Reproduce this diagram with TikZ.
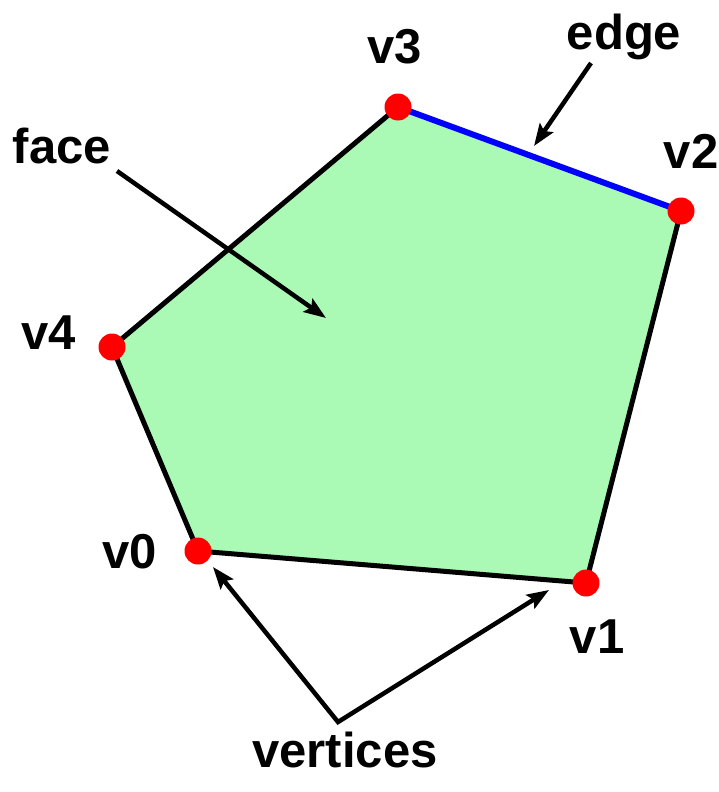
\documentclass[tikz,border=0pt]{standalone}
\usepackage{fontspec}
\setmainfont{Liberation Sans}
\usetikzlibrary{arrows.meta}
\definecolor{facegreen}{RGB}{170,250,182}

\begin{document}
\begin{tikzpicture}[x=1pt,y=-1pt,
  dot/.style={circle,fill=red,inner sep=0pt,minimum size=27pt},
  lbl/.style={font=\fontsize{49}{52}\selectfont\bfseries,inner sep=0pt},
  tip/.tip={Stealth[length=22pt,width=16pt,inset=4pt]},
  pointer/.style={line width=4.5pt,-tip}]
\useasboundingbox (0,0) rectangle (718,792);
\coordinate (V0) at (198,551); \coordinate (V1) at (586,583); \coordinate (V2) at (681,211);
\coordinate (V3) at (398,107); \coordinate (V4) at (112,347);
\fill[facegreen] (V0)--(V1)--(V2)--(V3)--(V4)--cycle;
\draw[line width=5pt,line join=round] (V3)--(V4)--(V0)--(V1)--(V2);
\draw[blue,line width=6pt] (V2)--(V3);
\foreach \p in {V0,V1,V2,V3,V4}{\node[dot] (d\p) at (\p) {};}
% labels
\foreach \p/\x/\y/\t in {V0/130/552/v0,V1/597/637/v1,V2/691/151/v2,V3/395/47/v3,V4/49/333/v4}{\node[lbl] (l\p) at (\x,\y) {\t};}
\node[lbl] (edge) at (624,37) {edge};
\node[lbl] (face) at (62,146) {face};
\node[lbl] (vertices) at (345,750) {vertices};
% pointers
\coordinate (edgetip) at (534,146); \coordinate (facetip) at (326,318);
\coordinate (join) at (338,722);
\coordinate (tip0) at (213,567); \coordinate (tip1) at (549,590);
\draw[pointer] (591,63) -- (edgetip);
\draw[pointer] (117,171) -- (facetip);
\draw[pointer,tip-tip] (tip0) -- (join) -- (tip1);
\end{tikzpicture}
\end{document}
